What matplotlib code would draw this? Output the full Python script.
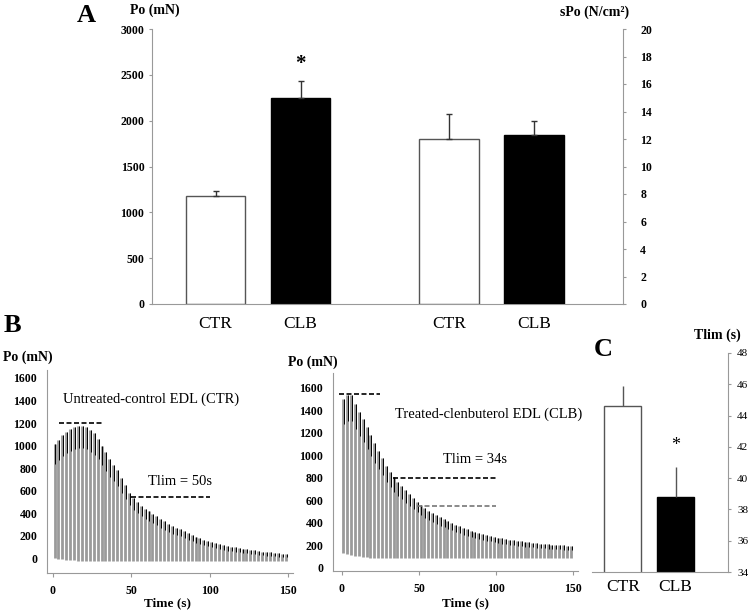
import numpy as np
import matplotlib
matplotlib.use('Agg')
import matplotlib.pyplot as plt

plt.rcParams['font.family'] = ['Liberation Serif', 'DejaVu Serif']

W, H = 751, 614

# panel A : maximal force and specific force
groups = ['CTR', 'CLB']
po_mean = [1180, 2250]
po_err = [50, 180]
spo_mean = [12.0, 12.3]
spo_err = [1.8, 1.0]

# panel C : time to fatigue
tlim_mean = [44.6, 38.8]
tlim_err = [1.3, 1.9]

# panel B : twitch trains (one peak every 2.5 s)
twitch_t = np.arange(1, 150, 2.5)
ctr_peak = [1010, 1050, 1090, 1120, 1150, 1165, 1175, 1175, 1165, 1140,
            1110, 1060, 1000, 940, 880, 830, 780, 710, 650, 580,
            530, 495, 465, 440, 420, 395, 370, 345, 325, 300,
            285, 270, 255, 240, 222, 205, 190, 175, 162, 150,
            140, 130, 122, 114, 107, 100, 94, 88, 83, 78,
            73, 68, 63, 58, 54, 50, 46, 42, 38, 35]
ctr_base = [0, -5, -10, -14, -18, -21, -24, -26, -28, -30] + [-30] * 50
clb_peak = [1500, 1535, 1540, 1460, 1390, 1320, 1250, 1180, 1110, 1040,
            975, 910, 855, 805, 765, 725, 690, 655, 620, 590,
            560, 535, 510, 490, 470, 450, 432, 415, 400, 385,
            370, 357, 345, 333, 322, 312, 302, 293, 285, 277,
            270, 263, 257, 251, 246, 241, 236, 232, 228, 224,
            220, 217, 214, 211, 208, 205, 203, 200, 198, 196]
clb_base = [135, 125, 117, 110, 104, 99, 95, 92, 90] + [88] * 51


def px(l, t, r, b):
    return [l / W, 1 - b / H, (r - l) / W, (b - t) / H]


fig = plt.figure(figsize=(W / 100, H / 100), dpi=100)
axcol = '#999999'
tickfont = dict(fontsize=8.5, fontweight='bold')

# ---------------- panel A ----------------
axA = fig.add_axes(px(152, 29, 623, 304))
posA = [0.75, 1.75, 3.5, 4.5]
axA.bar(posA[:2], po_mean, width=0.7, color=['white', 'black'],
        edgecolor=['#555555', 'black'], linewidth=1)
axA.errorbar(posA[:2], po_mean, yerr=[[0, 0], po_err], fmt='none',
             ecolor='#333333', elinewidth=1, capsize=2)
axA.set_xlim(0, 5.55)
axA.set_ylim(0, 3000)
axA.set_yticks(range(0, 3001, 500))
axA.set_yticklabels([str(v) for v in range(0, 3001, 500)], **tickfont)
axA.set_xticks(posA)
axA.set_xticklabels(groups * 2, fontsize=12.5)
axA.tick_params(axis='x', length=0, pad=9)
axA.tick_params(axis='y', length=2.5, color=axcol, pad=3)
for s in ['top', 'right']:
    axA.spines[s].set_visible(False)
for s in ['left', 'bottom']:
    axA.spines[s].set_color(axcol)
axA.text(posA[1], 2620, '*', ha='center', va='center', fontsize=15, fontweight='bold')

axA2 = axA.twinx()
axA2.bar(posA[2:], spo_mean, width=0.7, color=['white', 'black'],
         edgecolor=['#555555', 'black'], linewidth=1)
axA2.errorbar(posA[2:], spo_mean, yerr=[[0, 0], spo_err], fmt='none',
              ecolor='#333333', elinewidth=1, capsize=2)
axA2.set_ylim(0, 20)
axA2.set_yticks(range(0, 21, 2))
axA2.set_yticklabels([str(v) for v in range(0, 21, 2)], **tickfont)
axA2.tick_params(axis='y', length=2.5, color=axcol, pad=10)
for s in ['top', 'left', 'bottom']:
    axA2.spines[s].set_visible(False)
axA2.spines['right'].set_color(axcol)

fig.text(86 / W, 1 - 15 / H, 'A', fontsize=19, fontweight='bold', ha='center', va='center')
fig.text(155 / W, 1 - 10 / H, 'Po (mN)', fontsize=10, fontweight='bold', ha='center', va='center')
fig.text(595 / W, 1 - 12 / H, 'sPo (N/cm²)', fontsize=10, fontweight='bold', ha='center', va='center')


# ---------------- panel B ----------------
def twitch_panel(rect, xlim, ylim, peak, base):
    ax = fig.add_axes(px(*rect))
    peak = np.array(peak)
    base = np.array(base)
    ax.vlines(twitch_t, base, peak, color='#9a9a9a', linewidth=2.0)
    ax.vlines(twitch_t + 0.6, peak - 0.15 * (peak - base) - 20, peak,
              color='black', linewidth=0.7)
    ax.set_xlim(*xlim)
    ax.set_ylim(*ylim)
    ax.set_xticks([0, 50, 100, 150])
    ax.set_xticklabels(['0', '50', '100', '150'], **tickfont)
    ax.set_yticks(range(0, 1601, 200))
    ax.set_yticklabels([str(v) for v in range(0, 1601, 200)], **tickfont)
    ax.tick_params(axis='x', length=3, color=axcol, pad=6)
    ax.tick_params(axis='y', length=0, pad=7)
    for s in ['top', 'right']:
        ax.spines[s].set_visible(False)
    for s in ['left', 'bottom']:
        ax.spines[s].set_color(axcol)
    return ax


axB1 = twitch_panel((47, 370, 293, 573), (-3.8, 153.2), (-133, 1671), ctr_peak, ctr_base)
axB1.plot([4, 31], [1200, 1200], color='black', linestyle=(0, (3, 1.5)), linewidth=1.2)
axB1.plot([50, 100], [540, 540], color='black', linestyle=(0, (3, 1.5)), linewidth=1.2)
axB1.text(6.4, 1413, 'Untreated-control EDL (CTR)', fontsize=10.5, va='center')
axB1.text(60.6, 676, 'Tlim = 50s', fontsize=10.5, va='center')

axB2 = twitch_panel((333, 373, 578, 571), (-5.8, 153.2), (-27, 1733), clb_peak, clb_base)
axB2.plot([-2, 25], [1550, 1550], color='black', linestyle=(0, (3, 1.5)), linewidth=1.2)
axB2.plot([33, 100], [800, 800], color='black', linestyle=(0, (3, 1.5)), linewidth=1.2)
axB2.plot([49, 100], [550, 550], color='#777777', linestyle=(0, (3, 1.5)), linewidth=1.2)
axB2.text(34.4, 1369, 'Treated-clenbuterol EDL (CLB)', fontsize=10.5, va='center')
axB2.text(65.6, 960, 'Tlim = 34s', fontsize=10.5, va='center')

fig.text(12 / W, 1 - 325 / H, 'B', fontsize=19, fontweight='bold', ha='center', va='center')
fig.text(28 / W, 1 - 357 / H, 'Po (mN)', fontsize=10, fontweight='bold', ha='center', va='center')
fig.text(313 / W, 1 - 362 / H, 'Po (mN)', fontsize=10, fontweight='bold', ha='center', va='center')
fig.text(167 / W, 1 - 603 / H, 'Time (s)', fontsize=9.5, fontweight='bold', ha='center', va='center')
fig.text(466 / W, 1 - 603 / H, 'Time (s)', fontsize=9.5, fontweight='bold', ha='center', va='center')

# ---------------- panel C ----------------
axC = fig.add_axes(px(592, 353, 728, 572))
axC.bar([0, 1], tlim_mean, width=0.7, color=['white', 'black'],
        edgecolor=['#555555', 'black'], linewidth=1)
axC.errorbar([0, 1], tlim_mean, yerr=[[0, 0], tlim_err], fmt='none',
             ecolor='#555555', elinewidth=1, capsize=0)
axC.set_xlim(-0.58, 1.99)
axC.set_ylim(34, 48)
axC.set_xticks([0, 1])
axC.set_xticklabels(groups, fontsize=12.5)
axC.tick_params(axis='x', length=0, pad=5)
axC.yaxis.tick_right()
axC.set_yticks(range(34, 49, 2))
axC.set_yticklabels([str(v) for v in range(34, 49, 2)], fontsize=8)
axC.tick_params(axis='y', length=2.5, color=axcol, pad=4)
for s in ['top', 'left']:
    axC.spines[s].set_visible(False)
for s in ['right', 'bottom']:
    axC.spines[s].set_color(axcol)
axC.text(1, 42.1, '*', ha='center', va='center', fontsize=13)

fig.text(603 / W, 1 - 349 / H, 'C', fontsize=19, fontweight='bold', ha='center', va='center')
fig.text(717 / W, 1 - 335 / H, 'Tlim (s)', fontsize=10, fontweight='bold', ha='center', va='center')

fig.savefig('out.png', dpi=100)
